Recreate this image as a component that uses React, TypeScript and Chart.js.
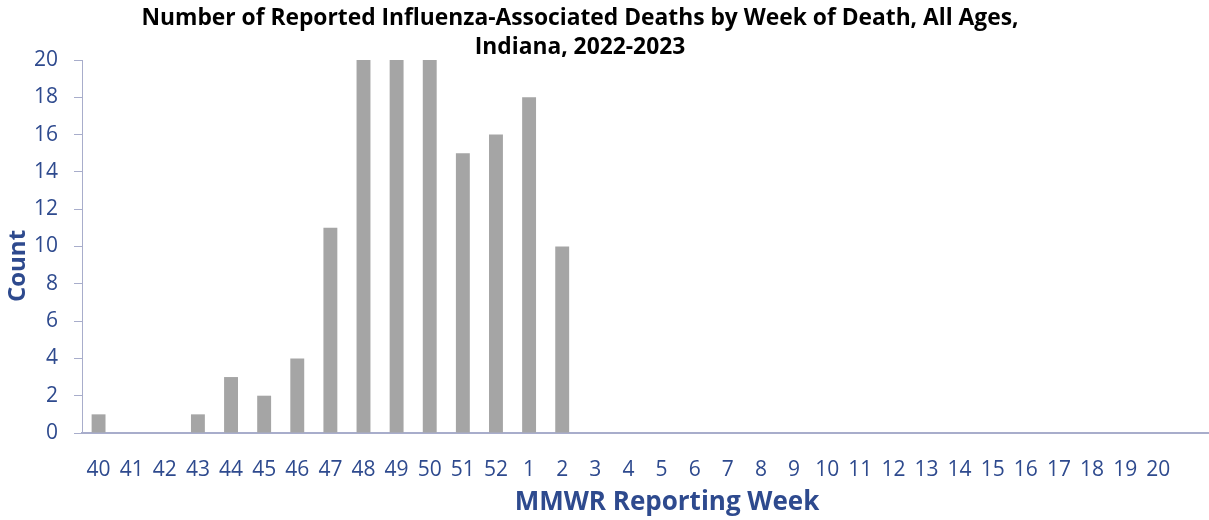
import React, { useEffect, useRef } from "react";
import { Chart, registerables } from "chart.js";

Chart.register(...registerables);

const weeks = ["40","41","42","43","44","45","46","47","48","49","50","51","52","1","2","3","4","5","6","7","8","9","10","11","12","13","14","15","16","17","18","19","20",""];
const deaths = [1,0,0,1,3,2,4,11,20,20,20,15,16,18,10,0,0,0,0,0,0,0,0,0,0,0,0,0,0,0,0,0,0,0];
const yTicks = [0,2,4,6,8,10,12,14,16,18,20];
const titleLines = ["Number of Reported Influenza-Associated Deaths by Week of Death, All Ages,", "Indiana, 2022-2023"];
const xTitle = "MMWR Reporting Week";
const yTitle = "Count";

const BLUE = "#2E4A8E";
const AXIS = "#A8ADCB";
const FONT = "'Open Sans', 'Noto Sans', sans-serif";

export default function App() {
  const ref = useRef<HTMLCanvasElement>(null);
  useEffect(() => {
    document.body.style.margin = "0";
    const titles = {
      id: "titles",
      afterDraw(chart: any) {
        const ctx = chart.ctx;
        ctx.save();
        ctx.fillStyle = "#000";
        ctx.font = `bold 22.8px ${FONT}`;
        ctx.textAlign = "center";
        ctx.textBaseline = "middle";
        ctx.fillText(titleLines[0], 580, 19);
        ctx.fillText(titleLines[1], 580, 48);
        ctx.fillStyle = BLUE;
        ctx.font = `bold 26px ${FONT}`;
        ctx.fillText(xTitle, 667, 503);
        ctx.font = `bold 24px ${FONT}`;
        ctx.translate(18, 266);
        ctx.rotate(-Math.PI / 2);
        ctx.fillText(yTitle, 0, 0);
        ctx.restore();
      },
    };
    const chart = new Chart(ref.current!, {
      type: "bar",
      data: {
        labels: weeks,
        datasets: [{ data: deaths, backgroundColor: "#A5A5A5", categoryPercentage: 1, barPercentage: 0.42 }],
      },
      options: {
        animation: false,
        responsive: false,
        layout: { padding: { top: 60, right: 1, left: 0, bottom: 0 } },
        plugins: { legend: { display: false }, tooltip: { enabled: false }, title: { display: false } },
        scales: {
          x: {
            grid: { display: false },
            border: { display: true, color: AXIS, width: 2 },
            ticks: { color: BLUE, font: { family: FONT, size: 21 }, padding: 16, maxRotation: 0, autoSkip: false },
            afterFit(s: any) { s.height = 87; },
          },
          y: {
            min: 0,
            max: 20,
            afterBuildTicks(s: any) { s.ticks = yTicks.map((v) => ({ value: v })); },
            grid: { drawOnChartArea: false, color: AXIS, tickLength: 8, lineWidth: 1 },
            border: { display: true, color: AXIS, width: 1 },
            ticks: { color: BLUE, font: { family: FONT, size: 21 }, padding: 16 },
            afterFit(s: any) { s.width = 82; },
          },
        },
      },
      plugins: [titles],
    });
    return () => chart.destroy();
  }, []);
  return <canvas ref={ref} width={1209} height={520} style={{ display: "block" }} />;
}
